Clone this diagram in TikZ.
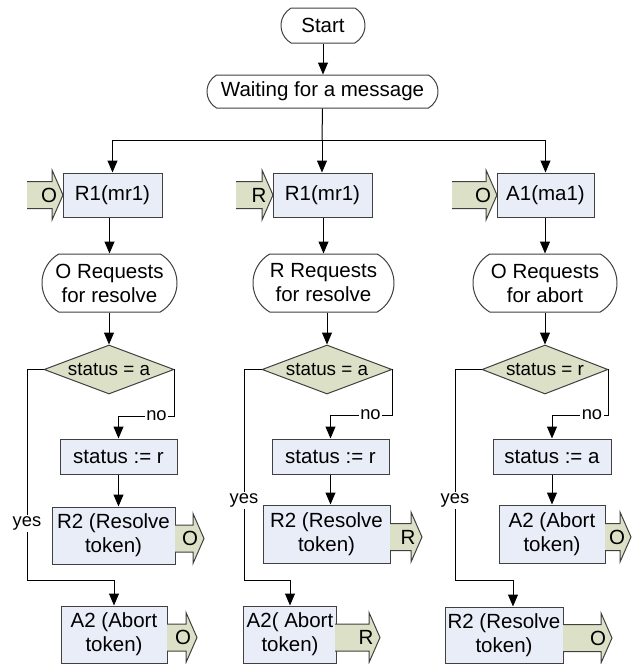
\documentclass[tikz,border=0pt]{standalone}
\usepackage{fontspec}
\setmainfont{Liberation Sans}
\usetikzlibrary{shapes.misc,shapes.geometric,arrows.meta}
\definecolor{boxfill}{HTML}{E8EDF8}
\definecolor{tokgreen}{HTML}{DCE0C6}
\definecolor{edgegray}{HTML}{404040}
% #1 x start, #2 x tip, #3 y centre, #4 letter, #5 name
\newcommand\tokarrow[5]{%
  \fill[tokgreen] (#1,#3-13.5) -- (#2-11,#3-13.5) -- (#2-11,#3-25) -- (#2,#3) -- (#2-11,#3+25) -- (#2-11,#3+13.5) -- (#1,#3+13.5) -- cycle;
  \draw[tokline] (#1,#3-13.5) -- (#2-11,#3-13.5) -- (#2-11,#3-25) -- (#2,#3) -- (#2-11,#3+25) -- (#2-11,#3+13.5) -- (#1,#3+13.5);
  \node[txt, inner sep=0pt] (#5) at (#2-14,#3) {#4};}
\begin{document}
\begin{tikzpicture}[x=0.6pt,y=-0.6pt,
  txt/.style={font=\fontsize{12.3}{14.4}\selectfont, align=center, text=black},
  dtxt/.style={font=\fontsize{11.3}{13}\selectfont, align=center, text=black},
  term/.style={txt, shape=rounded rectangle, rounded rectangle arc length=120, draw=edgegray, fill=white, inner sep=0pt, line width=0.6pt},
  procbox/.style={txt, rectangle, draw=edgegray, fill=boxfill, inner sep=0pt, line width=0.6pt},
  decbox/.style={diamond, draw=edgegray, fill=tokgreen, inner sep=0pt, line width=0.6pt},
  sz/.style 2 args={minimum width=#1*0.6pt, minimum height=#2*0.6pt},
  arr/.style={draw=black, line width=0.6pt, -{Triangle[length=7.2pt,width=6pt]}},
  conn/.style={draw=black, line width=0.6pt},
  tokline/.style={draw=edgegray, line width=0.6pt, line join=miter},
  lbl/.style={font=\fontsize{11}{13}\selectfont, fill=white, inner sep=1pt, text=black}]
\useasboundingbox (0,0) rectangle (637,664);

% top
\node[term, sz={84}{35}] (start) at (323,25.5) {Start};
\node[term, sz={231}{33}] (wait) at (322.5,91.5) {Waiting for a message};

% column 1
\node[procbox, sz={99}{44}] (r1a) at (112.5,195) {R1(mr1)};
\node[term, sz={135}{58}] (req1) at (109.5,283) {O Requests\\for resolve};
\node[decbox, sz={130}{49}] (d1) at (109,369.5) {};
\node[dtxt] (d1t) at (d1) {status = a};
\node[procbox, sz={117}{35}] (s1) at (118.5,456.5) {status := r};
\node[procbox, sz={123}{57}] (r2a) at (113.5,535.5) {R2 (Resolve\\token)};
\node[procbox, sz={106}{57}] (a2a) at (114,634.5) {A2 (Abort\\token)};

% column 2
\node[procbox, sz={99}{44}] (r1b) at (322.5,195) {R1(mr1)};
\node[term, sz={141}{58}] (req2) at (323.5,283) {R Requests\\for resolve};
\node[decbox, sz={130}{49}] (d2) at (327,369.5) {};
\node[dtxt] (d2t) at (d2) {status = a};
\node[procbox, sz={117}{35}] (s2) at (330.5,456.5) {status := r};
\node[procbox, sz={127}{58}] (r2b) at (326.5,534) {R2 (Resolve\\token)};
\node[procbox, sz={93}{57}] (a2b) at (290,634.5) {A2( Abort\\token)};

% column 3
\node[procbox, sz={97}{44}] (a1c) at (545.5,195) {A1(ma1)};
\node[term, sz={144}{58}] (req3) at (545,283) {O Requests\\for abort};
\node[decbox, sz={126}{49}] (d3) at (545,369.5) {};
\node[dtxt] (d3t) at (d3) {status = r};
\node[procbox, sz={118}{35}] (s3) at (552,456.5) {status := a};
\node[procbox, sz={106}{58}] (a2c) at (552,534) {A2 (Abort\\token)};
\node[procbox, sz={118}{56}] (r2c) at (504,635) {R2 (Resolve\\token)};

% token arrows
\tokarrow{27}{63}{195}{O}{ina}
\tokarrow{236}{273}{195}{R}{inb}
\tokarrow{452}{497}{195}{O}{inc}
\tokarrow{175}{204}{538.5}{O}{outa1}
\tokarrow{167}{197}{637.5}{O}{outa2}
\tokarrow{390}{422}{537}{R}{outb1}
\tokarrow{335}{380}{637.5}{R}{outb2}
\tokarrow{605}{631}{537}{O}{outc1}
\tokarrow{563}{612}{638}{O}{outc2}

% top connectors
\draw[arr] (start.south) -- (start.south |- wait.north);
\coordinate (bus) at (322,140);
\draw[conn] (wait.south) -- (bus);
\draw[arr] (bus) -| (r1a.north);
\draw[arr] (bus) -- (bus |- r1b.north);
\draw[arr] (bus) -| (a1c.north);

% column 1 connectors
\coordinate (ya) at (27,580);
\coordinate (na) at (174,416);
\draw[arr] (r1a.south -| req1.north) -- (req1.north);
\draw[arr] (req1.south -| d1.north) -- (d1.north);
\draw[arr] (d1.west) -| (ya) -| (a2a.north);
\draw[arr] (d1.east) -| (na) -| (s1.north);
\draw[arr] (s1.south) -- (s1.south |- r2a.north);
\node[lbl] (yes1) at (27,523) {yes};
\node[lbl] (no1) at (156.5,416) {no};

% column 2 connectors
\coordinate (yb) at (244,580);
\coordinate (nb) at (392,415);
\draw[arr] (r1b.south -| req2.north) -- (req2.north);
\draw[arr] (req2.south -| d2.north) -- (d2.north);
\draw[arr] (d2.west) -| (yb) -| (a2b.north);
\draw[arr] (d2.east) -| (nb) -| (s2.north);
\draw[arr] (s2.south) -- (s2.south |- r2b.north);
\node[lbl] (yes2) at (244,500) {yes};
\node[lbl] (no2) at (370.5,415) {no};

% column 3 connectors
\coordinate (yc) at (455,580);
\coordinate (yc2) at (513,580);
\coordinate (nc) at (608,415);
\draw[arr] (a1c.south -| req3.north) -- (req3.north);
\draw[arr] (req3.south -| d3.north) -- (d3.north);
\draw[arr] (d3.west) -| (yc) -- (yc2) -- (yc2 |- r2c.north);
\draw[arr] (d3.east) -| (nc) -| (s3.north);
\draw[arr] (s3.south) -- (s3.south |- a2c.north);
\node[lbl] (yes3) at (455,500) {yes};
\node[lbl] (no3) at (592,415) {no};
\end{tikzpicture}
\end{document}
